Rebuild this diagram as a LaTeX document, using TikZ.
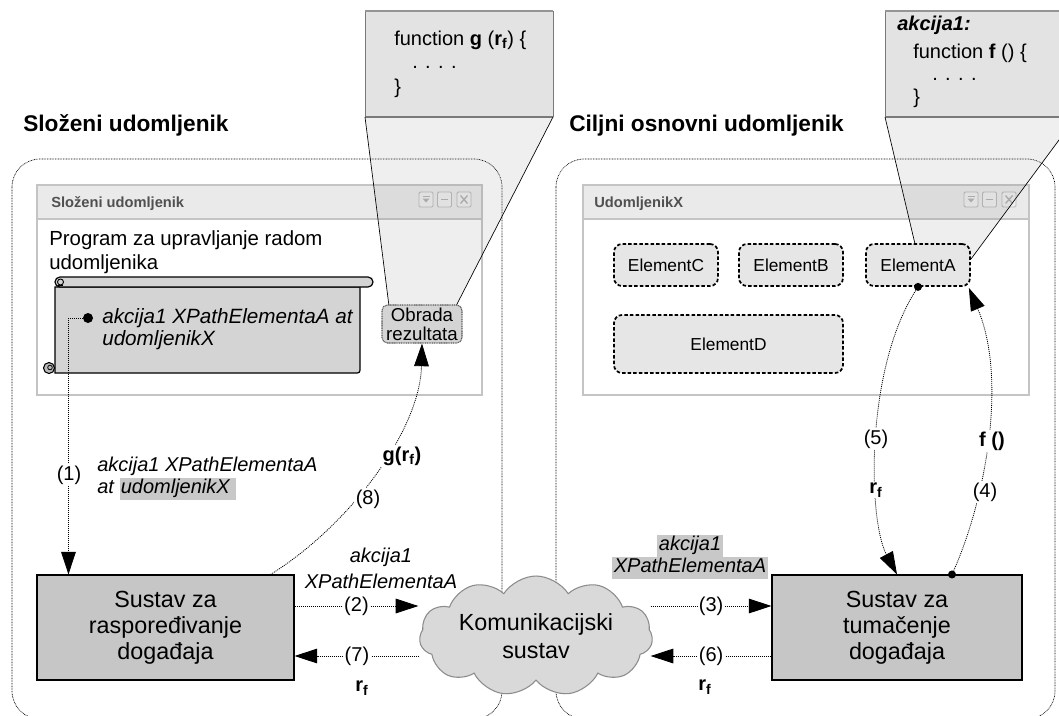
\documentclass[tikz,border=0pt]{standalone}
\usepackage{fontspec}
\setmainfont{Liberation Sans}
\usetikzlibrary{arrows.meta,shapes.symbols,calc}
\definecolor{boxgray}{HTML}{C6C6C6}
\definecolor{scrollgray}{HTML}{D4D4D4}
\definecolor{elgray}{HTML}{E6E6E6}
\definecolor{cloudgray}{HTML}{D9D9D9}
\definecolor{cloudline}{HTML}{8C8C8C}
\definecolor{winborder}{HTML}{C4C4C4}
\definecolor{wintitle}{HTML}{EAEAEA}
\definecolor{codegray}{HTML}{E3E3E3}
\definecolor{codeedge}{HTML}{7A7A7A}
\definecolor{hlgray}{HTML}{C8C8C8}
\definecolor{titlegray}{HTML}{505050}
\newcommand\fs[2]{\fontsize{#1}{#2}\selectfont}
\newcommand\rsubf{\textbf{r\textsubscript{f}}}
\newcommand\hlbox[3]{{\setlength\fboxsep{0pt}\colorbox{hlgray}{\strut\kern#2#1\kern#3}}}
\tikzset{
  btn/.style={draw=gray!55, fill=gray!12, line width=0.7pt, rounded corners=1pt},
  btnicon/.style={gray!60},
  winbtns/.pic={
    \draw[btn] (0,0) rectangle (14,15);
    \draw[btn] (18.5,0) rectangle (32.5,15);
    \draw[btn] (38,0) rectangle (52,15);
    \fill[btnicon] (3.5,6.5) -- (10.5,6.5) -- (7,10.5) -- cycle;
    \draw[btnicon, line width=0.8pt] (3.5,4.5) -- (10.5,4.5);
    \draw[btnicon, line width=1.2pt] (22,7.5) -- (29,7.5);
    \draw[btnicon, line width=1pt] (41.5,3.5) -- (48.5,11.5) (41.5,11.5) -- (48.5,3.5);
  }
}
\begin{document}
\begin{tikzpicture}[x=0.75pt,y=-0.75pt,
  title/.style={font=\fs{17}{20}\bfseries, inner sep=0},
  wtitle/.style={font=\fs{11}{13}\bfseries, text=titlegray, inner sep=0},
  container/.style={dash pattern=on 0.6pt off 0.6pt, line width=0.5pt, rounded corners=21pt},
  win/.style={draw=winborder, line width=1.3pt, fill=white},
  conn/.style={dash pattern=on 0.75pt off 0.75pt, line width=0.6pt},
  tip/.style={-{Triangle[length=17pt,width=11pt]}},
  lbl/.style={fill=white, inner sep=1pt, font=\fs{15}{18}},
  sysbox/.style={draw=black, line width=0.8pt, fill=boxgray, align=center, font=\fs{17.5}{19.5}},
  elem/.style={draw=black, fill=elgray, line width=1.3pt, dash pattern=on 2.6pt off 1.6pt, rounded corners=6pt, font=\fs{13}{15}, minimum height=31.5pt, inner sep=0},
  dotn/.style={circle, fill=black, inner sep=0, minimum size=#1},
  code/.style={font=\fs{15}{18}, inner sep=0, anchor=base west},
  cone/.style={fill=gray, fill opacity=0.13},
]
\useasboundingbox (0,0) rectangle (1059,715);

% titles
\node[title, anchor=base west] (t1) at (23,131) {Složeni udomljenik};
\node[title, anchor=base west] (t2) at (569,131) {Ciljni osnovni udomljenik};

% containers
\draw[container] (12,159) rectangle (502,719);
\draw[container] (556,159) rectangle (1055,719);

% windows
\draw[win] (37,185) rectangle (482,395);
\fill[wintitle] (38,186) rectangle (481,219);
\draw[winborder, line width=0.8pt] (38,219) -- (481,219);
\node[wtitle, anchor=base west] (w1t) at (51,207) {Složeni udomljenik};
\pic at (419,192) {winbtns};

\draw[win] (583,185) rectangle (1029,395);
\fill[wintitle] (584,186) rectangle (1028,219);
\draw[winborder, line width=0.8pt] (584,219) -- (1028,219);
\node[wtitle, anchor=base west] (w2t) at (594,207) {UdomljenikX};
\pic at (964,192) {winbtns};

% program text
\node[anchor=north west, inner sep=0, align=left, font=\fs{15.3}{18}] (prog) at (49,230) {Program za upravljanje radom\\udomljenika};

% scroll
\draw[fill=scrollgray, line width=0.9pt] (55,287) -- (360,287) -- (360,367) .. controls (360,373) .. (354,373) -- (55,373) -- cycle;
\draw[fill=scrollgray, line width=0.9pt, rounded corners=3.7pt] (55,277) rectangle (373,287);
\draw[line width=0.7pt] (60.5,282) circle[radius=3];
\draw[line width=0.7pt] (57.5,285) -- (63,285);
\draw[fill=gray!55, line width=0.8pt] (49,368) circle[radius=5.5];
\draw[line width=0.6pt] (50,367.5) circle[radius=2.3];
\node[anchor=north west, inner sep=0, align=left, font=\fs{15.5}{16.5}\itshape] (scrtxt) at (102,308) {akcija1 XPathElementaA at\\udomljenikX};
\node[dotn=7.5pt] (d1) at (88,318) {};

% code boxes
\fill[codegray] (365,11) rectangle (553,117);
\draw[codeedge, line width=0.6pt] (365,11) -- (365,117) (553,11) -- (553,117);
\draw[codeedge!80, line width=1.6pt] (365,11) -- (553,11);
\draw[codeedge, line width=1.6pt] (365,117) -- (553,117);
\node[code] (cg1) at (394,45) {function \textbf{g} (\rsubf) \{};
\node[code] (cg2) at (412,68) {. . . .};
\node[code] (cg3) at (394,93) {\}};

\fill[codegray] (885,11) rectangle (1080,117);
\draw[codeedge, line width=0.6pt] (885,11) -- (885,117);
\draw[codeedge!80, line width=1.6pt] (885,11) -- (1080,11);
\draw[codeedge, line width=1.6pt] (885,117) -- (1080,117);
\node[code] (cf0) at (897,30) {\textbf{\textit{akcija1:}}};
\node[code] (cf1) at (913,58) {function \textbf{f} () \{};
\node[code] (cf2) at (932,80) {. . . .};
\node[code] (cf3) at (913,103) {\}};

% cones
\fill[cone] (365,117) -- (553,117) -- (456,306) -- (389,306) -- cycle;
\draw[line width=0.5pt] (365,117) -- (389,306) (553,117) -- (456,306);
\fill[cone] (885,117) -- (1076,117) -- (971,259) -- (915,244) -- cycle;
\draw[line width=0.5pt] (885,117) -- (915,244) (1076,117) -- (971,259);

% Obrada
\node[draw=black!65, dash pattern=on 0.8pt off 0.5pt, line width=0.8pt, fill=scrollgray, rounded corners=4pt,
  minimum width=60pt, minimum height=28.5pt, inner sep=1pt, align=center, font=\fs{14}{14.5}] (obr) at (422,324) {Obrada\\rezultata};

% elements
\node[elem, minimum width=78pt] (elC) at (666,265) {ElementC};
\node[elem, minimum width=78pt] (elB) at (791,265) {ElementB};
\node[elem, minimum width=78pt] (elA) at (918,265) {ElementA};
\node[elem, minimum width=171.75pt, minimum height=43.5pt] (elD) at (728.5,344) {ElementD};

% systems
\node[sysbox, minimum width=192.75pt, minimum height=78.75pt] (sched) at (165.5,627.5) {Sustav za\\raspoređivanje\\događaja};
\node[sysbox, minimum width=187.5pt, minimum height=78.75pt] (interp) at (897,627.5) {Sustav za\\tumačenje\\događaja};
\node[cloud, cloud puffs=11, cloud puff arc=115, cloud ignores aspect, draw=cloudline, fill=cloudgray, line width=0.8pt,
  minimum width=157pt, minimum height=90pt, align=center, font=\fs{17.5}{21}] (kom) at (536,636) {Komunikacijski\\sustav};

\node[dotn=6pt] (dA) at (elA.south) {};
\node[dotn=6pt] (dI) at ($(interp.north)+(55,0)$) {};

\coordinate (ya) at (0,606);
\coordinate (yb) at (0,656);

% (1)
\draw[conn,tip] (d1) -| ($(sched.north west)+(32,0)$);
\node[lbl] (l1) at (69,475) {(1)};
\node[anchor=north west, inner sep=0, align=left, font=\fs{15}{16.5}\itshape] (l1t) at (97,456.5) {akcija1 XPathElementaA\\at \hlbox{udomljenikX}{1pt}{5pt}};

% (2) and (7)
\draw[conn,tip] (sched.east |- ya) -- node[lbl] (l2) {(2)} ($(kom.west |- ya)+(-1,0)$);
\draw[conn,tip] (kom.west |- yb) -- node[lbl] (l7) {(7)} (sched.east |- yb);
\node[align=center, inner sep=0, font=\fs{15}{19.5}\itshape] (l2t) at (381,568) {akcija1\\XPathElementaA};
\node[lbl, font=\fs{15}{18}] (l7t) at (362,688) {\rsubf};

% (3) and (6)
\draw[conn,tip] ($(kom.east |- ya)+(-2,0)$) -- node[lbl] (l3) {(3)} (interp.west |- ya);
\draw[conn,tip] (interp.west |- yb) -- node[lbl] (l6) {(6)} ($(kom.east |- yb)+(-2,0)$);
\node[align=center, inner sep=0, font=\fs{15}{16.5}\itshape] (l3t) at (690,557) {\hlbox{akcija1}{1.5pt}{1.5pt}\\\hlbox{XPathElementaA}{1.7pt}{1.7pt}};
\node[lbl] (l6t) at (705,687) {\rsubf};

% (8)
\draw[conn,tip] ($(sched.north east)+(-24,0)$) .. controls (350,525) and (420,430) .. (obr.south);
\node[lbl] (l8) at (368,499) {(8)};
\node[lbl] (l8t) at (402,456) {\textbf{g(}\rsubf\textbf{)}};

% (4) and (5)
\draw[conn,tip] (dI) .. controls (985,500) and (1008,380) .. ($(elA.south east)+(-2,1)$);
\draw[conn,tip] (dA) .. controls (865,370) and (868,520) .. (interp.north);
\node[lbl] (l5) at (876,439) {(5)};
\node[lbl] (l5t) at (876,490) {\rsubf};
\node[lbl] (l4) at (985,492) {(4)};
\node[lbl] (l4t) at (992,441) {\textbf{f ()}};
\end{tikzpicture}
\end{document}
